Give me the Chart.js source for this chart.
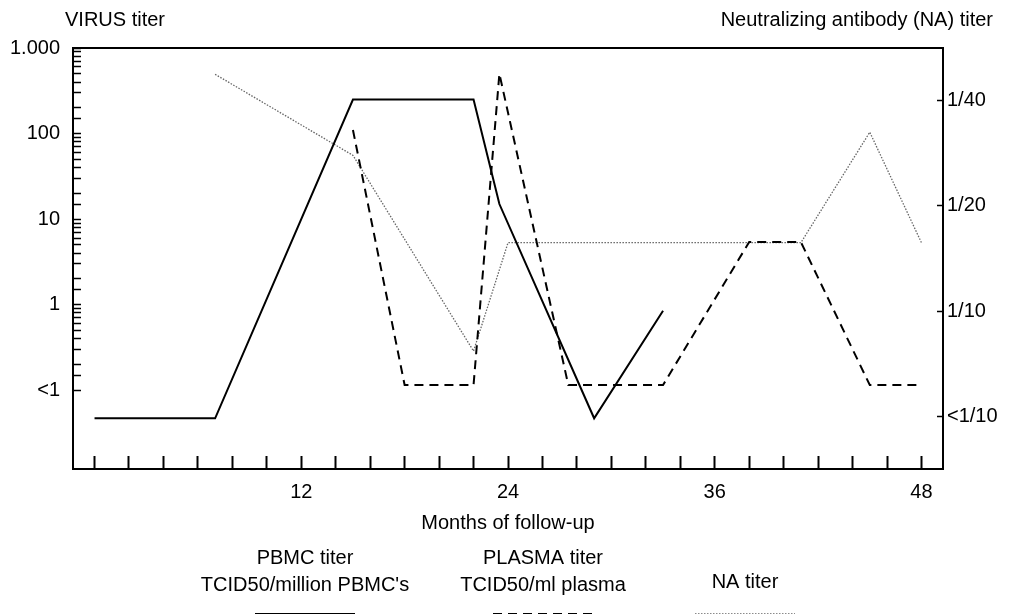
<!DOCTYPE html>
<html>
<head>
<meta charset="utf-8">
<script src="https://cdn.jsdelivr.net/npm/chart.js@4.4.1/dist/chart.umd.min.js"></script>
<style>
  html, body { margin: 0; padding: 0; background: #fff; }
  #wrap { position: relative; width: 1012px; height: 614px; }
</style>
</head>
<body>
<div id="wrap"><canvas id="myChart"></canvas></div>
<script>
// meses de seguimiento y titulos
const pbmcMeses = [0, 7, 15, 22, 23.5, 29, 33];
const pbmcTiter = [0.047, 0.047, 250, 250, 15, 0.047, 0.85];

const plasmaMeses = [15, 18, 22, 23.5, 27.5, 33, 38, 41, 45, 48];
const plasmaTiter = [110, 0.115, 0.115, 500, 0.115, 0.115, 5.4, 5.4, 0.115, 0.115];

// NA titer: 0 = <1/10, 1 = 1/10, 2 = 1/20, 3 = 1/40
const naMeses = [7, 15, 22, 24, 41, 45, 48];
const naTiter = [3.25, 2.48, 0.62, 1.65, 1.65, 2.70, 1.65];

// etiquetas de ejes
const virusTickValues = [0.1, 1, 10, 100, 1000];
const virusTickLabels = ['<1', '1', '10', '100', '1.000'];
const naTickLabels = ['<1/10', '1/10', '1/20', '1/40'];
const mesesTickLabels = [12, 24, 36, 48];

const legendPbmc = ['PBMC titer', "TCID50/million PBMC's"];
const legendPlasma = ['PLASMA titer', 'TCID50/ml plasma'];
const legendNa = ['NA titer'];

const FAMILIA = '"Liberation Sans", Arial, Helvetica, sans-serif';
const FUENTE = '20px ' + FAMILIA;
const TEXTO = '#000';
let myChart = null;

function puntos(meses, valores) {
  return meses.map((m, i) => ({ x: m, y: valores[i] }));
}

function labelVirus(v) {
  const i = virusTickValues.findIndex(t => Math.abs(t - v) / t < 1e-6);
  return i >= 0 ? virusTickLabels[i] : '';
}

/* titulos de arriba y la leyenda de abajo */
const textos = {
  id: 'textos',
  afterDraw(chart) {
    const ctx = chart.ctx;
    const area = chart.chartArea;
    ctx.save();
    ctx.font = FUENTE;
    ctx.fillStyle = TEXTO;
    ctx.textBaseline = 'middle';
    ctx.textAlign = 'left';
    ctx.fillText('VIRUS titer', area.left - 8, 20);
    ctx.textAlign = 'right';
    ctx.fillText('Neutralizing antibody (NA) titer', area.right + 50, 20);

    const items = [
      { lineas: legendPbmc, x: 305, y: 558, ds: 0 },
      { lineas: legendPlasma, x: 543, y: 558, ds: 1 },
      { lineas: legendNa, x: 745, y: 582, ds: 2 }
    ];
    ctx.textAlign = 'center';
    items.forEach(it => {
      it.lineas.forEach((t, k) => ctx.fillText(t, it.x, it.y + k * 27));
      const ds = chart.data.datasets[it.ds];
      ctx.beginPath();
      ctx.strokeStyle = ds.borderColor;
      ctx.lineWidth = ds.borderWidth;
      ctx.setLineDash(ds.borderDash || []);
      ctx.moveTo(it.x - 50, 614);
      ctx.lineTo(it.x + 50, 614);
      ctx.stroke();
    });
    ctx.restore();
  }
};

function renderChart() {
  if (myChart != null) {
    myChart.destroy();
  }
  const ctx = document.querySelector('#myChart').getContext('2d');

  myChart = new Chart(ctx, {
    type: 'line',
    data: {
      datasets: [
        {
          label: 'PBMC titer',
          data: puntos(pbmcMeses, pbmcTiter),
          borderColor: '#000',
          borderWidth: 2,
          yAxisID: 'y'
        },
        {
          label: 'PLASMA titer',
          data: puntos(plasmaMeses, plasmaTiter),
          borderColor: '#000',
          borderWidth: 2,
          borderDash: [9, 6],
          yAxisID: 'y'
        },
        {
          label: 'NA titer',
          data: puntos(naMeses, naTiter),
          borderColor: '#666',
          borderWidth: 1.3,
          borderDash: [1.5, 1.5],
          yAxisID: 'y2'
        }
      ]
    },
    options: {
      animation: false,
      responsive: true,
      maintainAspectRatio: false,
      elements: {
        point: { radius: 0, hoverRadius: 0 },
        line: { tension: 0, fill: false }
      },
      layout: { padding: { top: 48, left: 0, right: 0, bottom: 0 } },
      plugins: {
        legend: { display: false },
        tooltip: { enabled: false }
      },
      scales: {
        x: {
          type: 'linear',
          position: 'bottom',
          min: -1.25,
          max: 49.25,
          afterFit: s => { s.height = 145; },
          border: { display: true, color: '#000', width: 2 },
          grid: { display: true, drawOnChartArea: false, drawTicks: true, tickLength: -13, tickColor: '#000', tickWidth: 2 },
          ticks: {
            stepSize: 2,
            includeBounds: false,
            autoSkip: false,
            maxRotation: 0,
            padding: 24,
            color: TEXTO,
            font: { family: FAMILIA, size: 20 },
            callback: v => mesesTickLabels.includes(v) ? String(v) : ''
          },
          title: {
            display: true,
            text: 'Months of follow-up',
            color: TEXTO,
            font: { family: FAMILIA, size: 20 },
            padding: { top: 0, bottom: 79 }
          }
        },
        xTop: {
          type: 'linear',
          position: 'top',
          min: -1.25,
          max: 49.25,
          afterFit: s => { s.height = 0; },
          border: { display: true, color: '#000', width: 2 },
          grid: { display: false },
          ticks: { display: false }
        },
        y: {
          type: 'logarithmic',
          position: 'left',
          min: 0.012,
          max: 1000,
          afterFit: s => { s.width = 73; },
          afterBuildTicks: s => { s.ticks = s.ticks.filter(t => t.value >= 0.0999); },
          border: { display: true, color: '#000', width: 2 },
          grid: { display: true, drawOnChartArea: false, drawTicks: true, tickLength: -8, tickColor: '#000', tickWidth: 1.5 },
          ticks: {
            autoSkip: false,
            padding: 21,
            color: TEXTO,
            font: { family: FAMILIA, size: 20 },
            callback: v => labelVirus(v)
          }
        },
        y2: {
          type: 'linear',
          position: 'right',
          min: -0.5,
          max: 3.5,
          afterFit: s => { s.width = 69; },
          // una marca por cada titulo de NA
          afterBuildTicks: s => { s.ticks = naTickLabels.map((t, i) => ({ value: i })); },
          border: { display: true, color: '#000', width: 2 },
          grid: { display: true, drawOnChartArea: false, drawTicks: true, tickLength: -6, tickColor: '#000', tickWidth: 1.5 },
          ticks: {
            autoSkip: false,
            padding: 10,
            color: TEXTO,
            font: { family: FAMILIA, size: 20 },
            callback: (v, i) => naTickLabels[i] || ''
          }
        }
      }
    },
    plugins: [textos]
  });
}

document.addEventListener('DOMContentLoaded', function () {
  renderChart();
});
</script>
</body>
</html>
